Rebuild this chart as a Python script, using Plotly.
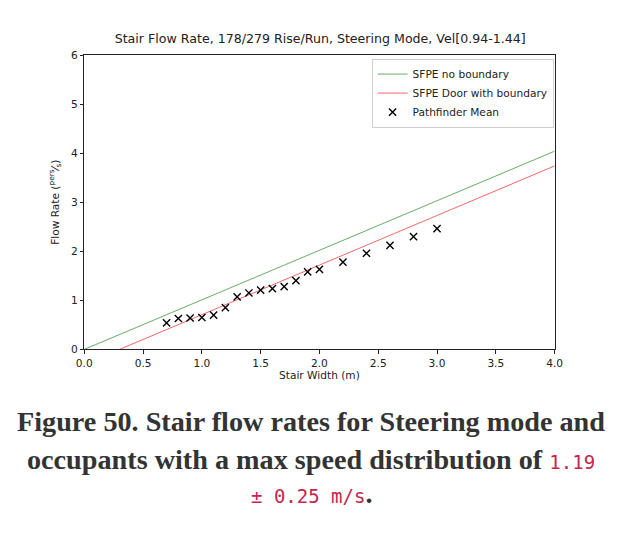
import plotly.graph_objects as go

# ---- data ----
widths = [0.7, 0.8, 0.9, 1.0, 1.1, 1.2, 1.3, 1.4, 1.5, 1.6, 1.7, 1.8, 1.9, 2.0,
          2.2, 2.4, 2.6, 2.8, 3.0]
pathfinder_mean = [0.54, 0.63, 0.64, 0.65, 0.70, 0.85, 1.07, 1.15, 1.21, 1.24,
                   1.28, 1.40, 1.58, 1.63, 1.78, 1.96, 2.12, 2.30, 2.46]
sfpe_no_x = [0.0, 4.0]
sfpe_no_y = [0.0, 4.04]
sfpe_door_x = [0.3, 4.0]
sfpe_door_y = [0.0, 3.74]
x_ticks = [0.0, 0.5, 1.0, 1.5, 2.0, 2.5, 3.0, 3.5, 4.0]
x_tick_labels = ["0.0", "0.5", "1.0", "1.5", "2.0", "2.5", "3.0", "3.5", "4.0"]
y_ticks = [0, 1, 2, 3, 4, 5, 6]

W, H = 622, 550
K = 1 / 0.972  # compensation for the photographed page scale


def px(d):
    """target picture pixel -> figure pixel"""
    return d * K - 8


L, R, T, B = px(84.0), px(554.0), px(56.5), px(349.0)

fig = go.Figure()
fig.add_trace(go.Scatter(x=sfpe_no_x, y=sfpe_no_y, mode="lines", name="SFPE no boundary",
                         line=dict(color="#3f9a3f", width=0.8)))
fig.add_trace(go.Scatter(x=sfpe_door_x, y=sfpe_door_y, mode="lines", name="SFPE Door with boundary",
                         line=dict(color="#ee4444", width=0.8)))
fig.add_trace(go.Scatter(x=widths, y=pathfinder_mean, mode="markers", name="Pathfinder Mean",
                         marker=dict(symbol="x-thin", size=7.2, color="black",
                                     line=dict(color="black", width=1.4))))

font_sans = "DejaVu Sans"
base = 10.6
axis_common = dict(showline=True, linecolor="#222", linewidth=1, mirror=True,
                   ticks="outside", ticklen=3.5, tickcolor="#222", showgrid=False,
                   zeroline=False, tickfont=dict(family=font_sans, size=base, color="#222"))

fig.update_layout(
    width=W, height=H,
    margin=dict(l=0, r=0, t=0, b=0),
    paper_bgcolor="white", plot_bgcolor="white",
    showlegend=True,
    title=dict(text="Stair Flow Rate, 178/279 Rise/Run, Steering Mode, Vel[0.94-1.44]",
               x=(L + R) / 2 / W, xanchor="center", y=1 - px(45) / H, yanchor="middle",
               font=dict(family=font_sans, size=12.6, color="#222")),
    xaxis=dict(domain=[L / W, R / W], range=[0, 4], tickvals=x_ticks, ticktext=x_tick_labels,
               title=dict(text="Stair Width (m)", standoff=3,
                          font=dict(family=font_sans, size=base, color="#222")),
               **axis_common),
    yaxis=dict(domain=[1 - B / H, 1 - T / H], range=[0, 6], tickvals=y_ticks,
               title=dict(text="Flow Rate (<sup>pers</sup>⁄<sub>s</sub>)", standoff=9,
                          font=dict(family=font_sans, size=base, color="#222")),
               **axis_common),
    legend=dict(x=px(553) / W, xanchor="right", y=1 - px(60) / H, yanchor="top",
                xref="paper", yref="paper",
                bgcolor="white", bordercolor="#d0d0d0", borderwidth=1,
                font=dict(family=font_sans, size=base, color="#222"),
                tracegroupgap=0, itemwidth=30),
)

# caption
cap_font = dict(family="Liberation Serif", size=28.2, color="#333333")
mono = "font-family:'DejaVu Sans Mono';font-weight:normal;color:#c7254e;font-size:19px"
cap_x = px(311) / W
captions = [
    ("<b>Figure 50. Stair flow rates for Steering mode and</b>", 421),
    ("<b>occupants with a max speed distribution of </b><span style=\"" + mono + "\">1.19</span>", 458),
    ("<span style=\"" + mono + "\">± 0.25 m/s</span><b>.</b>", 492),
]
for txt, ypx in captions:
    fig.add_annotation(text=txt, x=cap_x, y=1 - px(ypx) / H, xref="paper", yref="paper",
                       xanchor="center", yanchor="middle", showarrow=False, font=cap_font)

fig.write_html("out.html", config={"displayModeBar": False},
               post_script="document.body.style.margin='0px';")
